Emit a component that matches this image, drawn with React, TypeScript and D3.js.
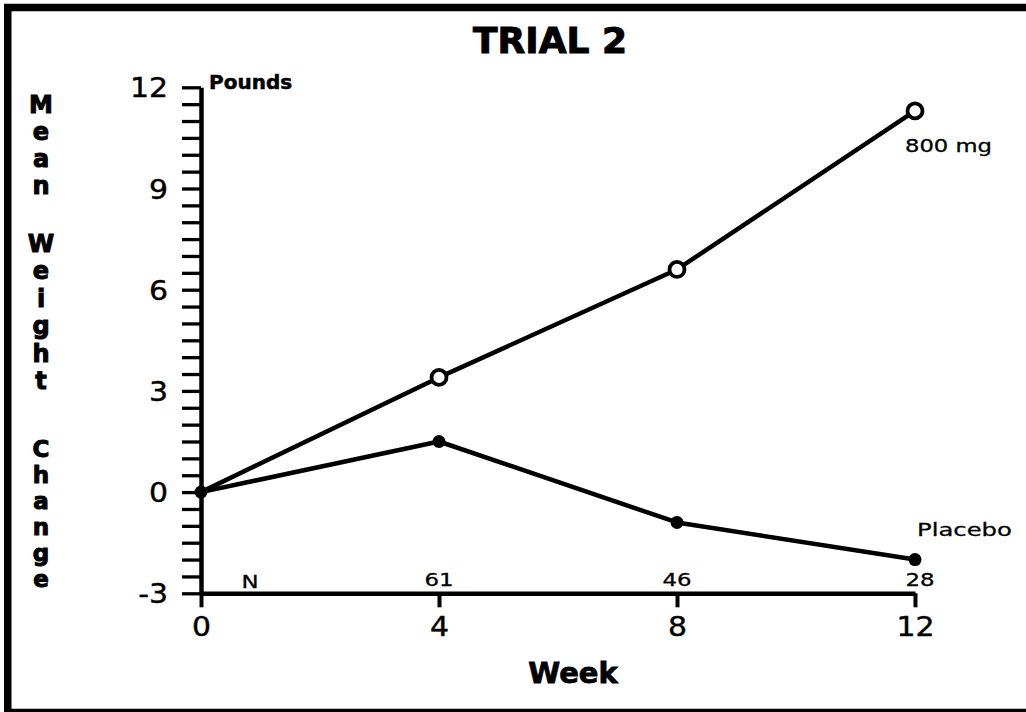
//@ts-nocheck
import * as d3 from "d3";
import { useRef, useEffect } from "react";

// data
const weeks = [0, 4, 8, 12];
const dose800 = [0, 3.4, 6.6, 11.3];
const placebo = [0, 1.5, -0.9, -2.0];
const nWeeks = [4, 8, 12];
const nCounts = [61, 46, 28];
const yMajor = [-3, 0, 3, 6, 9, 12];
const yMinorStep = 0.5;
const yLabelWords = ["Mean", "Weight", "Change"];

const width = 1026;
const height = 712;

const SANS = "DejaVu Sans, Verdana, sans-serif";

function Stretch({ x, y, sx = 1.3, anchor = "start", size = 18, weight = "normal", children }) {
  return (
    <text
      transform={`translate(${x},${y}) scale(${sx},1)`}
      textAnchor={anchor}
      fontFamily={SANS}
      fontSize={size}
      fontWeight={weight}
      fill="#000"
      stroke="#000"
      strokeWidth={0.3}
    >
      {children}
    </text>
  );
}

export default function App() {
  const x = d3.scaleLinear([0, 12], [201, 915]);
  const y = d3.scaleLinear([-3, 12], [593.3, 87.3]);
  const line = d3.line((d, i) => x(weeks[i]), (d) => y(d));

  const gx = useRef();
  const gy = useRef();

  useEffect(() => {
    const ticks = d3.range(-3, 12 + 1e-9, yMinorStep);
    const g = d3.select(gy.current);
    g.call(
      d3
        .axisLeft(y)
        .tickValues(ticks)
        .tickSize(19)
        .tickSizeOuter(0)
        .tickFormat((d) => (yMajor.includes(d) ? String(d) : ""))
    );
    g.select(".domain").attr("stroke", "#000").attr("stroke-width", 4.5);
    g.selectAll(".tick line").attr("stroke", "#000").attr("stroke-width", 3.3);
    g.selectAll(".tick text")
      .attr("x", 0)
      .attr("dy", null)
      .attr("y", 9.5)
      .attr("transform", "translate(-33,0) scale(1.15,1)")
      .attr("font-family", SANS)
      .attr("font-size", 26)
      .attr("fill", "#000")
      .attr("stroke", "#000")
      .attr("stroke-width", 0.4);
    g.attr("font-family", null).attr("font-size", null);
  }, []);

  useEffect(() => {
    const g = d3.select(gx.current);
    g.call(d3.axisBottom(x).tickValues(weeks).tickSize(14).tickSizeOuter(0));
    g.select(".domain").attr("stroke", "#000").attr("stroke-width", 4.5);
    g.selectAll(".tick line").attr("stroke", "#000").attr("stroke-width", 4);
    g.selectAll(".tick text")
      .attr("dy", null)
      .attr("y", 0)
      .attr("transform", "translate(0,43) scale(1.15,1)")
      .attr("font-family", SANS)
      .attr("font-size", 26)
      .attr("fill", "#000")
      .attr("stroke", "#000")
      .attr("stroke-width", 0.4);
    g.attr("font-family", null).attr("font-size", null);
  }, []);

  const last = weeks.length - 1;
  const wordStarts = [113, 252, 457];
  const wordSteps = [27, 27.4, 26];
  const wordSizes = [24, 24, 23];

  return (
    <div>
      <style>{"body{margin:0;background:#fff}"}</style>
      <svg width={width} height={height} style={{ display: "block" }}>
        <rect x={0} y={0} width={width} height={height} fill="#fff" />
        <rect x={7.75} y={7.5} width={1060} height={705} fill="none" stroke="#000" strokeWidth={7.5} />

        <text x={550} y={53} textAnchor="middle" fontFamily={SANS} fontWeight="bold" fontSize={36} stroke="#000" strokeWidth={1}>
          TRIAL 2
        </text>

        {yLabelWords.map((w, k) => (
          <text key={w} textAnchor="middle" fontFamily={SANS} fontWeight="bold" fontSize={wordSizes[k]} stroke="#000" strokeWidth={1}>
            {w.split("").map((c, j) => (
              <tspan key={j} x={41} y={wordStarts[k] + j * wordSteps[k]}>
                {c}
              </tspan>
            ))}
          </text>
        ))}

        <text x={209} y={89} fontFamily={SANS} fontWeight="bold" fontSize={20} stroke="#000" strokeWidth={0.5}>
          Pounds
        </text>

        <g ref={gy} transform={`translate(${x(0)},0)`} />
        <g ref={gx} transform={`translate(0,${y(-3)})`} />

        <path d={line(placebo)} fill="none" stroke="#000" strokeWidth={4.5} strokeLinejoin="round" />
        <path d={line(dose800)} fill="none" stroke="#000" strokeWidth={4.5} strokeLinejoin="round" />

        {dose800.map((d, i) =>
          i === 0 ? null : (
            <circle key={i} cx={x(weeks[i])} cy={y(d)} r={7.5} fill="#fff" stroke="#000" strokeWidth={3.8} />
          )
        )}
        {placebo.map((d, i) => (
          <circle key={i} cx={x(weeks[i])} cy={y(d)} r={6.5} fill="#000" />
        ))}

        <Stretch x={x(weeks[last]) - 10} y={y(dose800[last]) + 41} sx={1.26}>
          800 mg
        </Stretch>
        <Stretch x={x(weeks[last]) + 2} y={y(placebo[last]) - 24} sx={1.35}>
          Placebo
        </Stretch>

        <Stretch x={250} y={588} anchor="middle" sx={1.27}>
          N
        </Stretch>
        {nCounts.map((n, i) => (
          <Stretch key={n} x={x(nWeeks[i]) + (i === 2 ? 5 : 0)} y={586} anchor="middle" sx={1.27}>
            {n}
          </Stretch>
        ))}

        <text x={573} y={683} textAnchor="middle" fontFamily={SANS} fontWeight="bold" fontSize={29} stroke="#000" strokeWidth={0.8}>
          Week
        </text>
      </svg>
    </div>
  );
}
